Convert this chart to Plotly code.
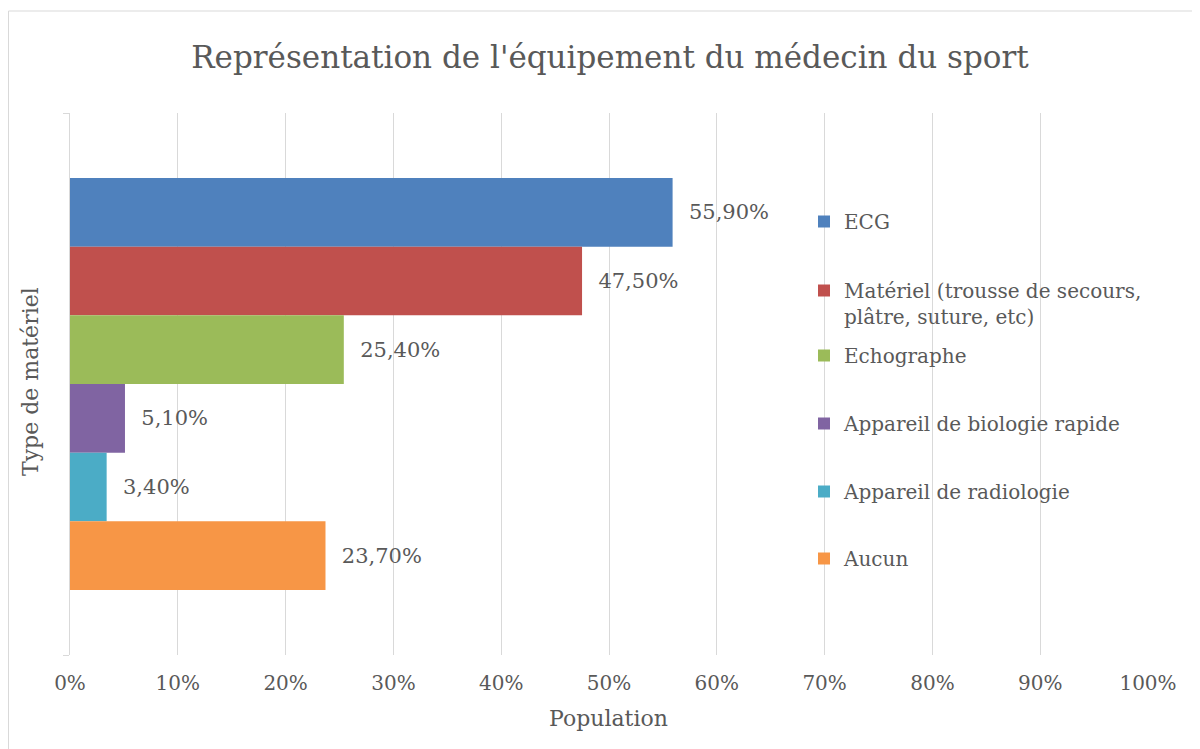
import plotly.graph_objects as go

title = "Représentation de l'équipement du médecin du sport"
series = ["ECG", "Matériel (trousse de secours,<br>plâtre, suture, etc)", "Echographe",
          "Appareil de biologie rapide", "Appareil de radiologie", "Aucun"]
values = [55.9, 47.5, 25.4, 5.1, 3.4, 23.7]
colors = ["#4F81BD", "#C0504D", "#9BBB59", "#8064A2", "#4BACC6", "#F79646"]
category = [" "]
x_ticks = [0, 10, 20, 30, 40, 50, 60, 70, 80, 90, 100]
x_tick_text = [f"{t}%" for t in x_ticks]
x_title = "Population"
y_title = "Type de matériel"

FONT = "DejaVu Serif"
TXT = "#595959"
OFF = 8  # page body margin
W, H = 1200 - OFF, 749 - OFF
L, R, T, B = 70 - OFF, 52, 113 - OFF, 94
PW, PH = W - L - R, H - T - B

def px_x(p):
    return (p - OFF - L) / PW

def px_y(p):
    return (H - B - (p - OFF)) / PH

legend_y_px = [221, 290, 355, 423, 491, 558]

fig = go.Figure()
for i, (name, v, c) in enumerate(zip(series, values, colors)):
    lname = "legend" if i == 0 else f"legend{i+1}"
    fig.add_trace(go.Bar(
        x=[v], y=category, orientation="h", name=name,
        marker=dict(color=c, line=dict(width=0)),
        text=["\u00a0\u00a0" + f"{v:.2f}%".replace(".", ",")],
        textposition="outside", cliponaxis=False,
        textfont=dict(family=FONT, size=21, color=TXT),
        legend=lname, showlegend=True,
    ))
    fig.update_layout({lname: dict(
        x=px_x(804), xanchor="left",
        y=px_y(legend_y_px[i] - 19), yanchor="top",
        valign="top",
        font=dict(family=FONT, size=20, color=TXT),
        bgcolor="rgba(0,0,0,0)", borderwidth=0,
    )})

fig.update_layout(
    width=W, height=H,
    margin=dict(l=L, r=R, t=T, b=B),
    paper_bgcolor="white", plot_bgcolor="white",
    barmode="group", bargap=0.24, bargroupgap=0,
    font=dict(family=FONT, color=TXT),
    title=dict(text=title, x=(610 - OFF) / W, xref="container", xanchor="center",
               y=1 - (57 - OFF) / H, yref="container", yanchor="middle",
               font=dict(family=FONT, size=31, color=TXT)),
    xaxis=dict(range=[0, 100], tickmode="array", tickvals=x_ticks, ticktext=x_tick_text,
               showgrid=True, gridcolor="#D9D9D9", gridwidth=1,
               zeroline=False, showline=False, ticks="",
               ticklabelstandoff=14,
               tickfont=dict(family=FONT, size=20, color=TXT)),
    yaxis=dict(type="category", autorange="reversed", showticklabels=False,
               showline=True, linecolor="#D9D9D9", linewidth=1,
               ticks="outside", tickson="boundaries", ticklen=6, tickcolor="#D9D9D9",
               showgrid=False, zeroline=False),
    annotations=[
        dict(text=x_title, x=px_x(608), y=px_y(718), xref="paper", yref="paper",
             showarrow=False, xanchor="center", yanchor="middle",
             font=dict(family=FONT, size=22, color=TXT)),
        dict(text=y_title, x=px_x(30), y=px_y(382), xref="paper", yref="paper",
             showarrow=False, xanchor="center", yanchor="middle", textangle=-90,
             font=dict(family=FONT, size=22, color=TXT)),
    ],
    shapes=[dict(type="rect", xref="paper", yref="paper",
                 x0=px_x(8.5), x1=px_x(1210), y0=px_y(760), y1=px_y(11),
                 line=dict(color="#D9D9D9", width=1), fillcolor="rgba(0,0,0,0)",
                 layer="below")],
)

fig.write_html("out.html")
